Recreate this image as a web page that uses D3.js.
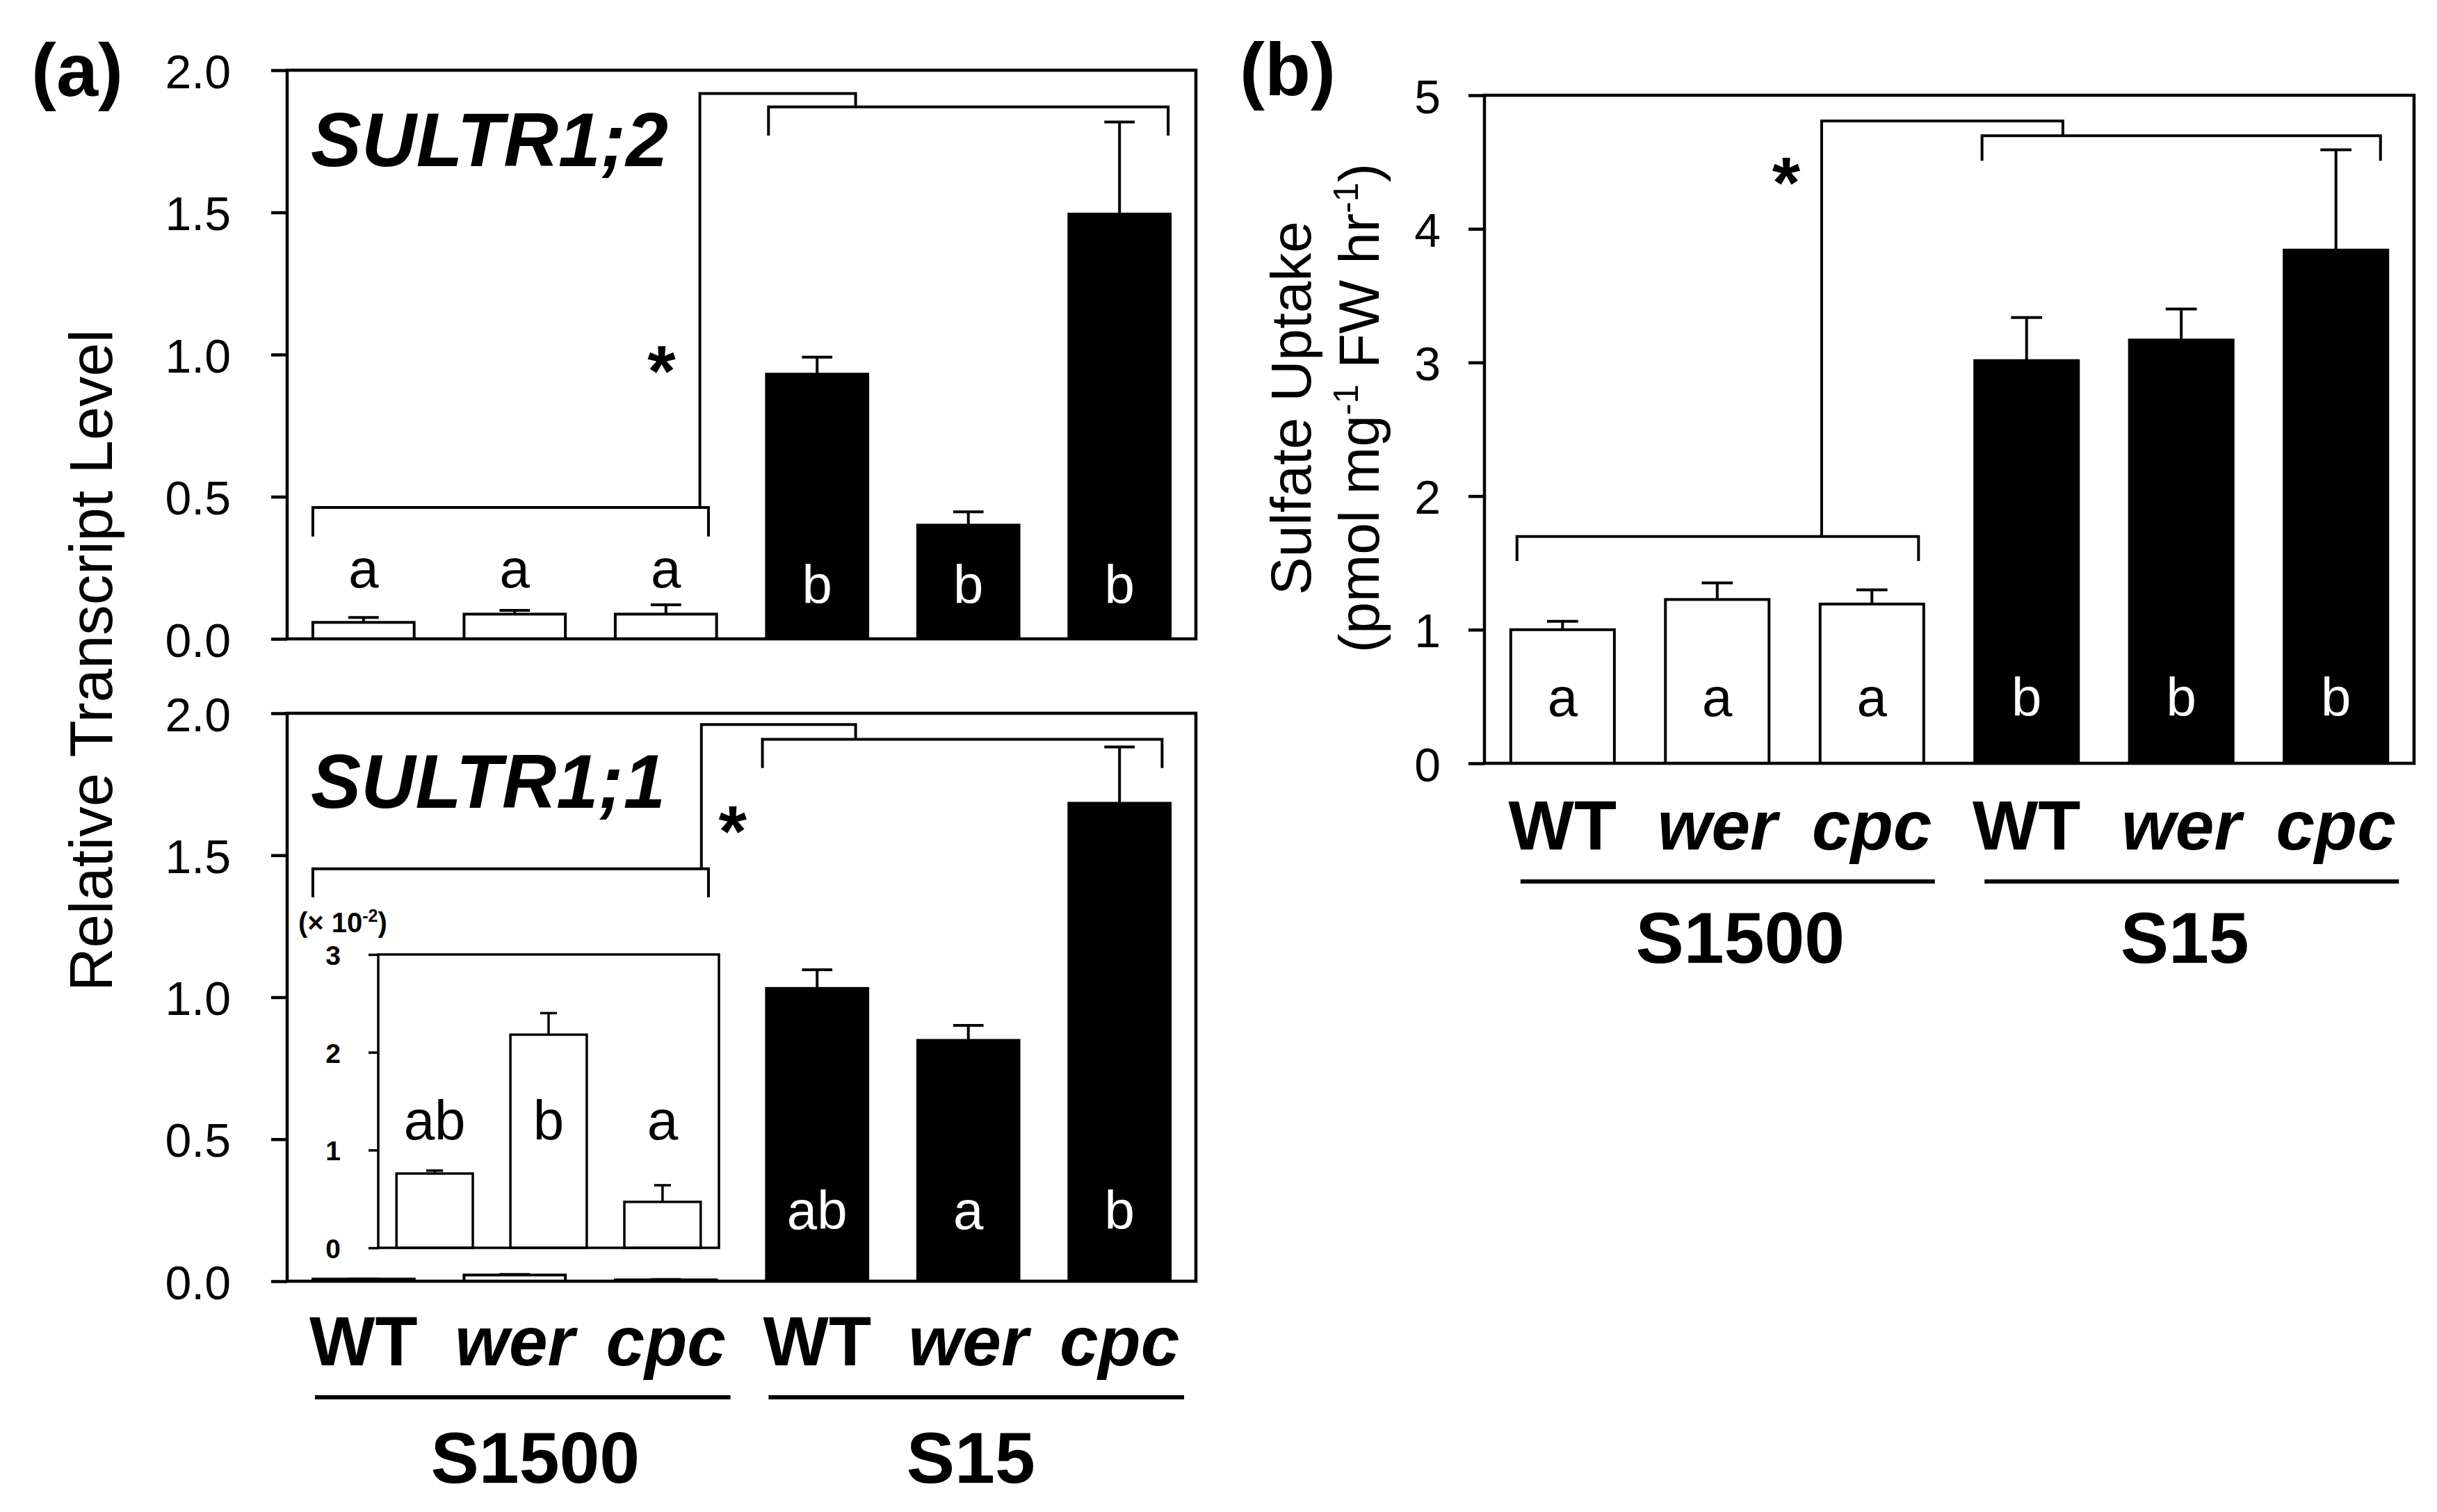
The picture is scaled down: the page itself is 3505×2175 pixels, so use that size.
<!DOCTYPE html>
<html>
<head>
<meta charset="utf-8">
<script src="https://cdn.jsdelivr.net/npm/d3@7.9.0/dist/d3.min.js"></script>
<style>
  body { margin: 0; background: #fff; }
  svg { display: block; }
  text { font-family: "Liberation Sans", Arial, sans-serif; fill: #000; }
</style>
</head>
<body>
<svg id="fig" width="3505" height="2175"></svg>
<script>
// categories
const genotypes = ['WT', 'wer', 'cpc', 'WT', 'wer', 'cpc'];
const groups = ['S1500', 'S15'];

// (a) top: SULTR1;2 relative transcript level
const sultr12Mean = [0.058, 0.087, 0.087, 0.931, 0.400, 1.494];
const sultr12Err = [0.017, 0.013, 0.033, 0.060, 0.047, 0.324];
const sultr12Letters = ['a', 'a', 'a', 'b', 'b', 'b'];
// bracket levels: S1500 bar, S1500 leg end, joint, S15 bar, S15 leg end
const sultr12Brackets = [0.462, 0.36, 1.918, 1.871, 1.77];
const sultr12Star = 1.0;

// (a) bottom: SULTR1;1 relative transcript level
const sultr11Mean = [0.0076, 0.0218, 0.0047, 1.031, 0.848, 1.683];
const sultr11Err = [0.0003, 0.0022, 0.0017, 0.066, 0.053, 0.198];
const sultr11Letters = ['', '', '', 'ab', 'a', 'b'];
const sultr11Brackets = [1.452, 1.352, 1.96, 1.908, 1.807];
const sultr11Star = 1.643;

// inset of SULTR1;1, S1500 only (x 10^-2)
const insetMean = [0.76, 2.18, 0.47];
const insetErr = [0.03, 0.22, 0.17];
const insetLetters = ['ab', 'b', 'a'];

// (b) sulfate uptake
const uptakeMean = [1.00, 1.226, 1.192, 3.014, 3.168, 3.841];
const uptakeErr = [0.063, 0.124, 0.106, 0.323, 0.232, 0.750];
const uptakeLetters = ['a', 'a', 'a', 'b', 'b', 'b'];
const uptakeBrackets = [1.697, 1.514, 4.808, 4.697, 4.51];
const uptakeStar = 4.47;

// tick values
const transcriptTicks = [0, 0.5, 1.0, 1.5, 2.0];
const uptakeTicks = [0, 1, 2, 3, 4, 5];
const insetTicks = [0, 1, 2, 3];

const svg = d3.select('#fig');
svg.append('rect').attr('width', 3505).attr('height', 2175).attr('fill', '#fff');

function drawBars(g, x, y, means, errs, fills, capFrac, sw) {
  const bw = x.bandwidth();
  means.forEach((m, i) => {
    g.append('rect')
      .attr('x', x(i)).attr('y', y(m))
      .attr('width', bw).attr('height', y(0) - y(m))
      .attr('fill', fills[i]).attr('stroke', '#000').attr('stroke-width', sw);
    const cx = x(i) + bw / 2;
    const top = y(m + errs[i]);
    g.append('line').attr('x1', cx).attr('x2', cx).attr('y1', y(m)).attr('y2', top)
      .attr('stroke', '#000').attr('stroke-width', sw);
    g.append('line').attr('x1', cx - bw * capFrac / 2).attr('x2', cx + bw * capFrac / 2)
      .attr('y1', top).attr('y2', top)
      .attr('stroke', '#000').attr('stroke-width', sw);
  });
}

function drawAxis(g, x0, y, ticks, fmt, size, pad, fontSize, sw, weight) {
  const ax = g.append('g').attr('transform', `translate(${x0},0)`)
    .call(d3.axisLeft(y).tickValues(ticks).tickFormat(fmt)
      .tickSize(size).tickPadding(pad).tickSizeOuter(0));
  ax.select('.domain').remove();
  ax.attr('font-family', null).attr('font-size', null);
  ax.selectAll('line').attr('stroke', '#000').attr('stroke-width', sw);
  ax.selectAll('text').attr('font-size', fontSize).attr('font-weight', weight)
    .attr('dy', '0.37em').attr('fill', '#000');
}

function drawBrackets(g, x, y, lv, o) {
  const bw = x.bandwidth();
  const path = d3.path();
  // S1500 group bracket
  const l1 = x(0) + o.g1[0] * bw, r1 = x(2) + o.g1[1] * bw;
  path.moveTo(l1, y(lv[1])); path.lineTo(l1, y(lv[0]));
  path.lineTo(r1, y(lv[0])); path.lineTo(r1, y(lv[1]));
  // S15 group bracket
  const l2 = x(3) + o.g2[0] * bw, r2 = x(5) + o.g2[1] * bw;
  path.moveTo(l2, y(lv[4])); path.lineTo(l2, y(lv[3]));
  path.lineTo(r2, y(lv[3])); path.lineTo(r2, y(lv[4]));
  // joint between the two groups
  const vx = x(2) + o.vert * bw, jx = x(3) + o.join * bw;
  path.moveTo(vx, y(lv[0])); path.lineTo(vx, y(lv[2]));
  path.lineTo(jx, y(lv[2])); path.lineTo(jx, y(lv[3]));
  g.append('path').attr('d', path.toString()).attr('fill', 'none')
    .attr('stroke', '#000').attr('stroke-width', 4);
  return vx;
}

function drawStar(g, cx, cy) {
  g.append('text').attr('x', cx).attr('y', cy + 60)
    .attr('text-anchor', 'middle').attr('font-size', 104).attr('font-weight', 'bold')
    .text('*');
}

function drawLetters(g, x, y, letters, fills, whiteBase, blackBase, fontSize) {
  letters.forEach((t, i) => {
    if (!t) return;
    const black = fills[i] === '#000';
    g.append('text')
      .attr('x', x(i) + x.bandwidth() / 2)
      .attr('y', y(black ? blackBase : whiteBase))
      .attr('text-anchor', 'middle').attr('font-size', fontSize)
      .style('fill', black ? '#fff' : '#000')
      .text(t);
  });
}

function drawCategories(g, x, base, lineY, offs, groupBase, labelShift) {
  const bw = x.bandwidth();
  genotypes.forEach((t, i) => {
    g.append('text').attr('x', x(i) + bw / 2).attr('y', base)
      .attr('text-anchor', 'middle').attr('font-size', 100).attr('font-weight', 'bold')
      .attr('font-style', t === 'WT' ? 'normal' : 'italic')
      .text(t);
  });
  groups.forEach((t, k) => {
    const l = x(k * 3) + offs[0], r = x(k * 3 + 2) + bw + offs[1];
    g.append('line').attr('x1', l).attr('x2', r).attr('y1', lineY).attr('y2', lineY)
      .attr('stroke', '#000').attr('stroke-width', 6);
    g.append('text').attr('x', (l + r) / 2 + labelShift[k]).attr('y', groupBase)
      .attr('text-anchor', 'middle').attr('font-size', 104).attr('font-weight', 'bold')
      .text(t);
  });
}

const fills = ['#fff', '#fff', '#fff', '#000', '#000', '#000'];

// ---------- panel (a) ----------
const ax0 = 413, ax1 = 1720;
const xa = d3.scaleBand().domain(d3.range(6)).range([ax0, ax1])
  .paddingInner(0.33).paddingOuter(0.17);
const yTop = d3.scaleLinear().domain([0, 2]).range([919, 101]);
const yBot = d3.scaleLinear().domain([0, 2]).range([1843, 1026]);
const bracketA = { g1: [0, 0.92], g2: [0.02, 0.98], vert: 0.835, join: 0.88 };

const pa = svg.append('g');
// top: SULTR1;2
drawBars(pa, xa, yTop, sultr12Mean, sultr12Err, fills, 0.3, 4);
pa.append('rect').attr('x', ax0).attr('y', yTop(2)).attr('width', ax1 - ax0)
  .attr('height', yTop(0) - yTop(2)).attr('fill', 'none')
  .attr('stroke', '#000').attr('stroke-width', 4.5);
drawAxis(pa, ax0, yTop, transcriptTicks, d3.format('.1f'), 23, 58, 68, 4.5, 'normal');
let v = drawBrackets(pa, xa, yTop, sultr12Brackets, bracketA);
drawStar(pa, v - 55, yTop(sultr12Star));
drawLetters(pa, xa, yTop, sultr12Letters, fills, 0.18, 0.125, 78);
pa.append('text').attr('x', 447).attr('y', 239).attr('font-size', 110)
  .attr('font-weight', 'bold').attr('font-style', 'italic')
  .attr('textLength', 514).attr('lengthAdjust', 'spacingAndGlyphs')
  .text('SULTR1;2');

// bottom: SULTR1;1
drawBars(pa, xa, yBot, sultr11Mean, sultr11Err, fills, 0.3, 4);
pa.append('rect').attr('x', ax0).attr('y', yBot(2)).attr('width', ax1 - ax0)
  .attr('height', yBot(0) - yBot(2)).attr('fill', 'none')
  .attr('stroke', '#000').attr('stroke-width', 4.5);
drawAxis(pa, ax0, yBot, transcriptTicks, d3.format('.1f'), 23, 58, 68, 4.5, 'normal');
v = drawBrackets(pa, xa, yBot, sultr11Brackets, { g1: [0, 0.92], g2: [-0.04, 0.92], vert: 0.85, join: 0.88 });
drawStar(pa, v + 45, yBot(sultr11Star));
drawLetters(pa, xa, yBot, sultr11Letters, fills, 0.184, 0.184, 78);
pa.append('text').attr('x', 447).attr('y', 1162).attr('font-size', 110)
  .attr('font-weight', 'bold').attr('font-style', 'italic')
  .attr('textLength', 510).attr('lengthAdjust', 'spacingAndGlyphs')
  .text('SULTR1;1');

// inset
const ix0 = 544, ix1 = 1034;
const xi = d3.scaleBand().domain(d3.range(3)).range([ix0, ix1])
  .paddingInner(0.33).paddingOuter(0.16);
const yi = d3.scaleLinear().domain([0, 3]).range([1795, 1373]);
drawBars(pa, xi, yi, insetMean, insetErr, fills, 0.22, 3.5);
pa.append('rect').attr('x', ix0).attr('y', yi(3)).attr('width', ix1 - ix0)
  .attr('height', yi(0) - yi(3)).attr('fill', 'none')
  .attr('stroke', '#000').attr('stroke-width', 3.5);
drawAxis(pa, ix0, yi, insetTicks, d3.format('d'), 14, 40, 39, 3.5, 'bold');
drawLetters(pa, xi, yi, insetLetters, fills, 1.11, 1.11, 80);
const inLab = pa.append('text').attr('x', 429).attr('y', 1341)
  .attr('font-size', 40).attr('font-weight', 'bold');
inLab.append('tspan').text('(× 10');
inLab.append('tspan').attr('font-size', 25).attr('dy', -15).text('-2');
inLab.append('tspan').attr('dy', 15).text(')');

drawCategories(pa, xa, 1964, 2010, [3, 20], 2133, [18, -8]);

pa.append('text').attr('transform', 'translate(161,950) rotate(-90)')
  .attr('text-anchor', 'middle').attr('font-size', 87)
  .text('Relative Transcript Level');
pa.append('text').attr('x', 45).attr('y', 138).attr('font-size', 108)
  .attr('font-weight', 'bold').text('(a)');

// ---------- panel (b) ----------
const bx0 = 2135, bx1 = 3472;
const xb = d3.scaleBand().domain(d3.range(6)).range([bx0, bx1])
  .paddingInner(0.33).paddingOuter(0.17);
const yb = d3.scaleLinear().domain([0, 5]).range([1098, 137]);

const pb = svg.append('g');
drawBars(pb, xb, yb, uptakeMean, uptakeErr, fills, 0.3, 4);
pb.append('rect').attr('x', bx0).attr('y', yb(5)).attr('width', bx1 - bx0)
  .attr('height', yb(0) - yb(5)).attr('fill', 'none')
  .attr('stroke', '#000').attr('stroke-width', 4.5);
drawAxis(pb, bx0, yb, uptakeTicks, d3.format('d'), 23, 40, 68, 4.5, 'normal');
v = drawBrackets(pb, xb, yb, uptakeBrackets, { g1: [0.06, 0.95], g2: [0.07, 0.93], vert: 0.015, join: 0.85 });
drawStar(pb, v - 51, yb(uptakeStar));
drawLetters(pb, xb, yb, uptakeLetters, fills, 0.354, 0.354, 78);
drawCategories(pb, xb, 1222, 1268, [14, 16], 1385, [18, -10]);

const tb = pb.append('g').attr('transform', 'translate(0,587)');
tb.append('text').attr('transform', 'translate(1885,0) rotate(-90)')
  .attr('text-anchor', 'middle').attr('font-size', 82)
  .text('Sulfate Uptake');
const t2 = tb.append('text').attr('transform', 'translate(1983,0) rotate(-90)')
  .attr('text-anchor', 'middle').attr('font-size', 82);
t2.append('tspan').text('(pmol mg');
t2.append('tspan').attr('font-size', 50).attr('dy', -30).text('-1');
t2.append('tspan').attr('dy', 30).text(' FW hr');
t2.append('tspan').attr('font-size', 50).attr('dy', -30).text('-1');
t2.append('tspan').attr('dy', 30).text(')');

pb.append('text').attr('x', 1783).attr('y', 137).attr('font-size', 108)
  .attr('font-weight', 'bold').text('(b)');
</script>
</body>
</html>
